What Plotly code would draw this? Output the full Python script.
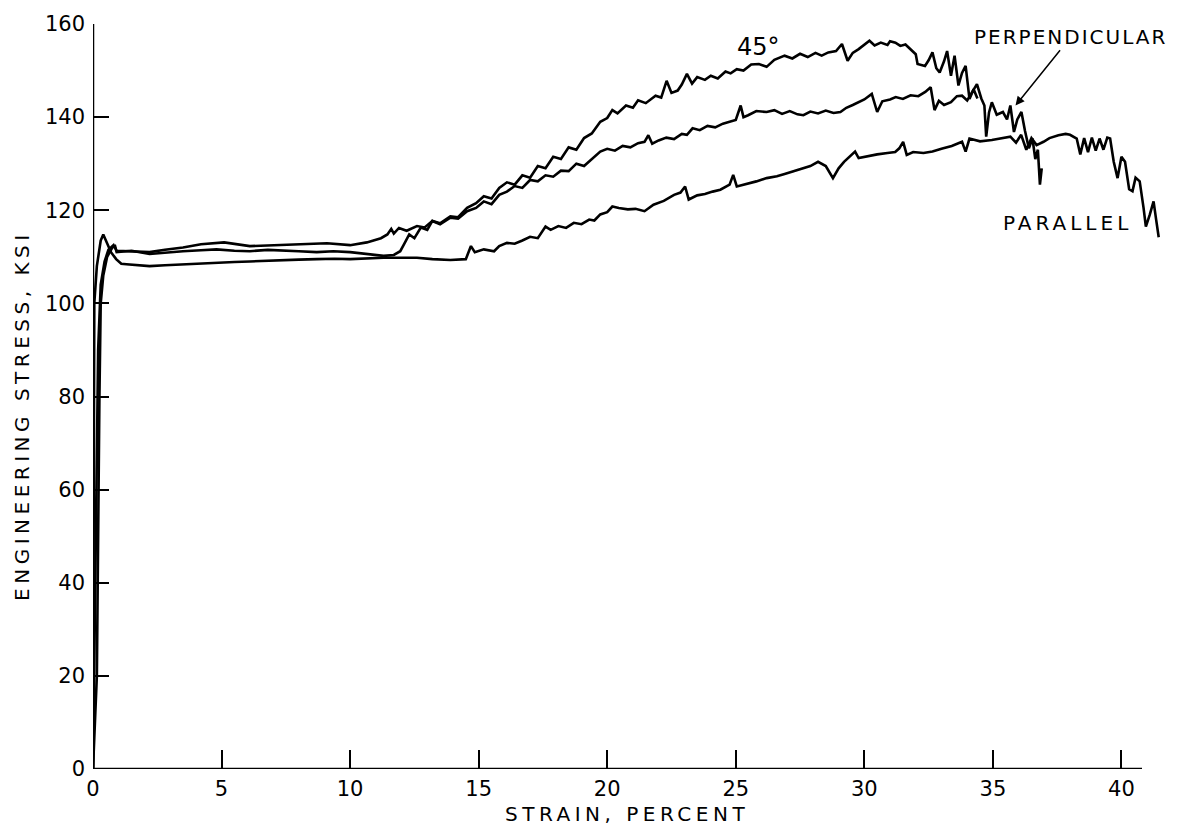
import plotly.graph_objects as go

# ---- data (strain %, engineering stress ksi) ----
x_45 = [0, 0.1, 0.2, 0.3, 0.45, 0.6, 0.8, 0.92, 1.5, 2.2, 2.8, 3.5, 4.2, 5.1, 6.1, 7.4, 8.3, 9.1, 10.0,
        10.65, 11.2, 11.45, 11.6, 11.7, 11.9, 12.2, 12.6, 12.9, 13.2, 13.5, 13.9, 14.2, 14.55, 14.9,
        15.2, 15.5, 15.8, 16.1, 16.4, 16.7, 17.0, 17.3, 17.6, 17.9, 18.2, 18.5, 18.8, 19.1, 19.4,
        19.73, 20.0, 20.2, 20.4, 20.73, 21.0, 21.2, 21.5, 21.88, 22.1, 22.31, 22.5, 22.74, 22.9, 23.1,
        23.3, 23.5, 23.8, 24.03, 24.3, 24.6, 24.8, 25.04, 25.3, 25.6, 25.9, 26.2, 26.5, 26.9, 27.2,
        27.5, 27.8, 28.1, 28.34, 28.6, 28.9, 29.13, 29.35, 29.55, 29.78, 30.0, 30.2, 30.4, 30.64,
        30.9, 31.0, 31.21, 31.4, 31.6, 31.79, 32.0, 32.07, 32.36, 32.5, 32.65, 32.8, 32.93, 33.1,
        33.22, 33.37, 33.51, 33.66, 33.8, 33.94, 34.09, 34.25, 34.4]
y_45 = [0, 45, 90, 104, 109, 111.5, 112.5, 111.3, 111.2, 111.0, 111.5, 112.0, 112.7, 113.1, 112.3,
        112.5, 112.7, 112.9, 112.5, 113.1, 114.0, 114.8, 116.0, 115.0, 116.2, 115.6, 116.6, 116.3,
        117.7, 117.2, 118.7, 118.5, 120.5, 121.5, 123.0, 122.5, 124.8, 126.0, 125.5, 127.5, 127.0,
        129.5, 129.0, 131.5, 131.0, 133.5, 133.0, 135.5, 136.5, 139.0, 139.8, 141.5, 140.8, 142.5,
        142.0, 143.6, 143.0, 144.6, 144.2, 147.8, 145.2, 145.7, 147.0, 149.3, 147.2, 148.6, 148.0,
        148.9, 148.3, 149.8, 149.4, 150.3, 150.0, 151.3, 151.4, 150.8, 152.3, 153.2, 152.6, 153.6,
        152.9, 153.8, 153.2, 153.9, 154.2, 155.7, 152.1, 153.8, 154.6, 155.5, 156.4, 155.4, 156.0,
        155.5, 156.3, 156.0, 155.3, 155.6, 154.6, 153.5, 151.4, 151.0, 152.2, 153.9, 150.5, 149.6,
        152.0, 154.2, 148.9, 153.2, 146.8, 149.5, 151.0, 143.9, 146.0, 144.0]

x_perp = [0, 0.15, 0.25, 0.3, 0.4, 0.55, 0.75, 0.86, 0.92, 1.5, 2.2, 2.8, 3.5, 4.2, 4.8, 5.5, 6.1, 6.8,
          7.4, 8.0, 8.7, 9.35, 10.0, 10.65, 11.3, 11.7, 11.95, 12.1, 12.3, 12.5, 12.75, 13.0, 13.2,
          13.5, 13.9, 14.2, 14.55, 14.9, 15.2, 15.5, 15.8, 16.1, 16.4, 16.7, 17.0, 17.3, 17.6, 17.9,
          18.2, 18.5, 18.8, 19.1, 19.4, 19.73, 20.0, 20.3, 20.6, 20.9, 21.2, 21.45, 21.6, 21.75,
          22.0, 22.3, 22.6, 22.9, 23.1, 23.32, 23.6, 23.9, 24.2, 24.5, 24.76, 25.0, 25.19, 25.3,
          25.48, 25.8, 26.2, 26.5, 26.8, 27.1, 27.4, 27.63, 27.9, 28.2, 28.5, 28.8, 29.07, 29.3,
          29.55, 29.78, 30.0, 30.29, 30.5, 30.7, 31.0, 31.22, 31.5, 31.8, 32.1, 32.37, 32.58, 32.73,
          32.9, 33.1, 33.37, 33.6, 33.8, 34.0, 34.2, 34.38, 34.55, 34.67, 34.74, 34.85, 34.96,
          35.15, 35.39, 35.55, 35.68, 35.82, 35.95, 36.11, 36.25, 36.4, 36.54, 36.65, 36.75, 36.83,
          36.9]
y_perp = [0, 20, 80, 100, 106, 110, 112, 112.3, 111.0, 111.3, 110.6, 110.9, 111.2, 111.4, 111.6,
          111.3, 111.2, 111.5, 111.4, 111.2, 111.0, 111.2, 111.0, 110.6, 110.2, 110.4, 111.2, 112.7,
          114.8, 114.0, 116.3, 115.8, 117.7, 117.0, 118.4, 118.2, 119.8, 120.5, 121.9, 121.3, 123.3,
          124.0, 125.2, 124.8, 126.5, 126.2, 127.5, 127.2, 128.5, 128.4, 130.0, 129.5, 131.0, 132.6,
          133.2, 132.8, 133.8, 133.5, 134.4, 134.7, 136.1, 134.3, 135.0, 135.6, 135.3, 136.4, 136.2,
          137.6, 137.2, 138.1, 137.8, 138.6, 139.0, 139.4, 142.5, 140.0, 140.4, 141.3, 141.1, 141.5,
          140.7, 141.3, 140.6, 140.4, 141.2, 140.8, 141.4, 140.9, 141.1, 142.0, 142.6, 143.2, 143.8,
          145.0, 141.1, 143.4, 143.8, 144.3, 143.9, 144.7, 144.5, 145.4, 146.4, 141.5, 143.5, 142.6,
          143.2, 144.5, 144.6, 143.6, 145.5, 147.1, 144.0, 142.5, 135.8, 141.0, 143.2, 140.5, 141.1,
          139.5, 142.5, 136.8, 139.5, 141.1, 137.0, 133.3, 135.4, 131.0, 133.0, 125.5, 129.0]

x_par = [0, 0.02, 0.05, 0.15, 0.3, 0.4, 0.55, 0.7, 0.9, 1.1, 1.3, 1.8, 2.2, 2.8, 3.5, 4.2, 4.8, 5.5,
         6.1, 6.8, 7.4, 8.0, 8.7, 9.4, 10.0, 10.7, 11.3, 12.0, 12.6, 13.2, 13.9, 14.5, 14.7, 14.85,
         15.2, 15.6, 15.8, 16.1, 16.4, 16.7, 17.0, 17.3, 17.6, 17.8, 18.1, 18.4, 18.7, 19.0, 19.3,
         19.5, 19.73, 20.0, 20.2, 20.45, 20.8, 21.1, 21.45, 21.8, 22.2, 22.6, 22.85, 23.03, 23.17,
         23.5, 23.8, 24.1, 24.4, 24.76, 24.9, 25.04, 25.4, 25.8, 26.2, 26.6, 26.9, 27.2, 27.5, 27.9,
         28.2, 28.5, 28.78, 29.0, 29.21, 29.64, 29.78, 30.1, 30.5, 30.9, 31.2, 31.36, 31.51, 31.65,
         31.9, 32.3, 32.65, 33.0, 33.4, 33.8, 33.94, 34.09, 34.5, 34.96, 35.3, 35.68, 35.9, 36.1,
         36.3, 36.5, 36.7, 36.97, 37.2, 37.55, 37.83, 38.0, 38.26, 38.4, 38.55, 38.7, 38.85, 39.0,
         39.15, 39.3, 39.45, 39.56, 39.7, 39.85, 40.0, 40.14, 40.3, 40.43, 40.55, 40.71, 40.86,
         40.95, 41.1, 41.25, 41.35, 41.45]
y_par = [0, 80, 100, 108, 113.5, 114.8, 113.0, 111.0, 109.5, 108.5, 108.4, 108.1, 108.0, 108.2,
         108.4, 108.6, 108.8, 108.9, 109.0, 109.2, 109.3, 109.4, 109.5, 109.6, 109.5, 109.7, 109.8,
         109.8, 109.8, 109.5, 109.3, 109.5, 112.3, 111.0, 111.6, 111.2, 112.3, 113.0, 112.8, 113.5,
         114.3, 114.0, 116.5, 115.8, 116.6, 116.2, 117.3, 117.0, 118.0, 117.8, 119.1, 119.6, 120.8,
         120.5, 120.2, 120.3, 119.8, 121.2, 122.0, 123.3, 123.8, 125.1, 122.3, 123.2, 123.5, 124.0,
         124.4, 125.5, 127.6, 125.1, 125.6, 126.2, 126.9, 127.3, 127.8, 128.3, 128.8, 129.5, 130.4,
         129.5, 126.9, 129.0, 130.4, 132.6, 131.2, 131.6, 132.0, 132.3, 132.5, 133.3, 134.7, 131.9,
         132.5, 132.3, 132.6, 133.2, 133.8, 134.7, 132.6, 135.4, 134.8, 135.1, 135.5, 135.8, 134.5,
         136.2, 133.0, 135.5, 134.0, 134.7, 135.5, 136.1, 136.4, 136.2, 135.4, 132.0, 135.5, 132.5,
         135.6, 132.8, 135.4, 133.0, 135.6, 135.4, 130.4, 126.9, 131.5, 130.4, 124.5, 124.1, 127.0,
         126.2, 120.5, 116.5, 119.0, 121.9, 118.0, 114.2]

x_ticks = [0, 5, 10, 15, 20, 25, 30, 35, 40]
x_tick_labels = ["0", "5", "10", "15", "20", "25", "30", "35", "40"]
y_ticks = [0, 20, 40, 60, 80, 100, 120, 140, 160]
y_tick_labels = ["0", "20", "40", "60", "80", "100", "120", "140", "160"]

FONT = "DejaVu Sans"


def spaced(txt, px):
    return '<span style="letter-spacing:%spx">%s</span>' % (px, txt)


fig = go.Figure()
for xs, ys in [(x_par, y_par), (x_perp, y_perp), (x_45, y_45)]:
    fig.add_trace(go.Scatter(x=xs, y=ys, mode="lines",
                             line=dict(color="black", width=2.6),
                             showlegend=False, hoverinfo="skip"))

fig.update_layout(
    width=1177, height=834,
    margin=dict(l=93, r=17, t=18, b=65),
    plot_bgcolor="white", paper_bgcolor="white",
    font=dict(family=FONT, color="black", size=21),
    showlegend=False,
)
fig.update_xaxes(range=[0, 41.5], tickvals=x_ticks, ticktext=x_tick_labels,
                 ticks="inside", ticklen=19, tickwidth=2, tickcolor="black",
                 ticklabelstandoff=5,
                 showgrid=False, zeroline=False, showline=False,
                 tickfont=dict(family=FONT, size=21, color="black"))
fig.update_yaxes(range=[0, 160], tickvals=y_ticks, ticktext=y_tick_labels,
                 ticks="inside", ticklen=16, tickwidth=2, tickcolor="black",
                 ticklabelstandoff=7,
                 showgrid=False, zeroline=False, showline=False,
                 tickfont=dict(family=FONT, size=21, color="black"))

# axis lines
fig.add_shape(type="line", xref="x", yref="y", x0=0, x1=40.8, y0=0, y1=0,
              line=dict(color="black", width=2.5))
fig.add_shape(type="line", xref="x", yref="y", x0=0, x1=0, y0=0, y1=160,
              line=dict(color="black", width=2.5))

# axis titles
fig.add_annotation(text=spaced("STRAIN, PERCENT", 4.5), xref="paper", yref="paper",
                   x=0.5, y=-0.061, showarrow=False,
                   font=dict(family=FONT, size=20, color="black"),
                   xanchor="center", yanchor="middle")
fig.add_annotation(text=spaced("ENGINEERING STRESS, KSI", 4.5), xref="paper", yref="paper",
                   x=-0.0665, y=0.474, showarrow=False, textangle=-90,
                   font=dict(family=FONT, size=20, color="black"),
                   xanchor="center", yanchor="middle")

# curve labels
fig.add_annotation(text="45°", x=25.9, y=155.1, xref="x", yref="y", showarrow=False,
                   font=dict(family=FONT, size=24, color="black"))
fig.add_annotation(text=spaced("PERPENDICULAR", 2), x=38.0, y=157.2, xref="x", yref="y",
                   showarrow=False, font=dict(family=FONT, size=20, color="black"))
fig.add_annotation(text=spaced("PARALLEL", 4), x=37.9, y=117.2, xref="x", yref="y",
                   showarrow=False, font=dict(family=FONT, size=20, color="black"))
fig.add_annotation(text="", x=35.88, y=142.5, ax=37.66, ay=154.7, xref="x", yref="y",
                   axref="x", ayref="y", showarrow=True, arrowhead=2, arrowsize=1.2,
                   arrowwidth=1.5, arrowcolor="black")

fig.write_html("out.html")
